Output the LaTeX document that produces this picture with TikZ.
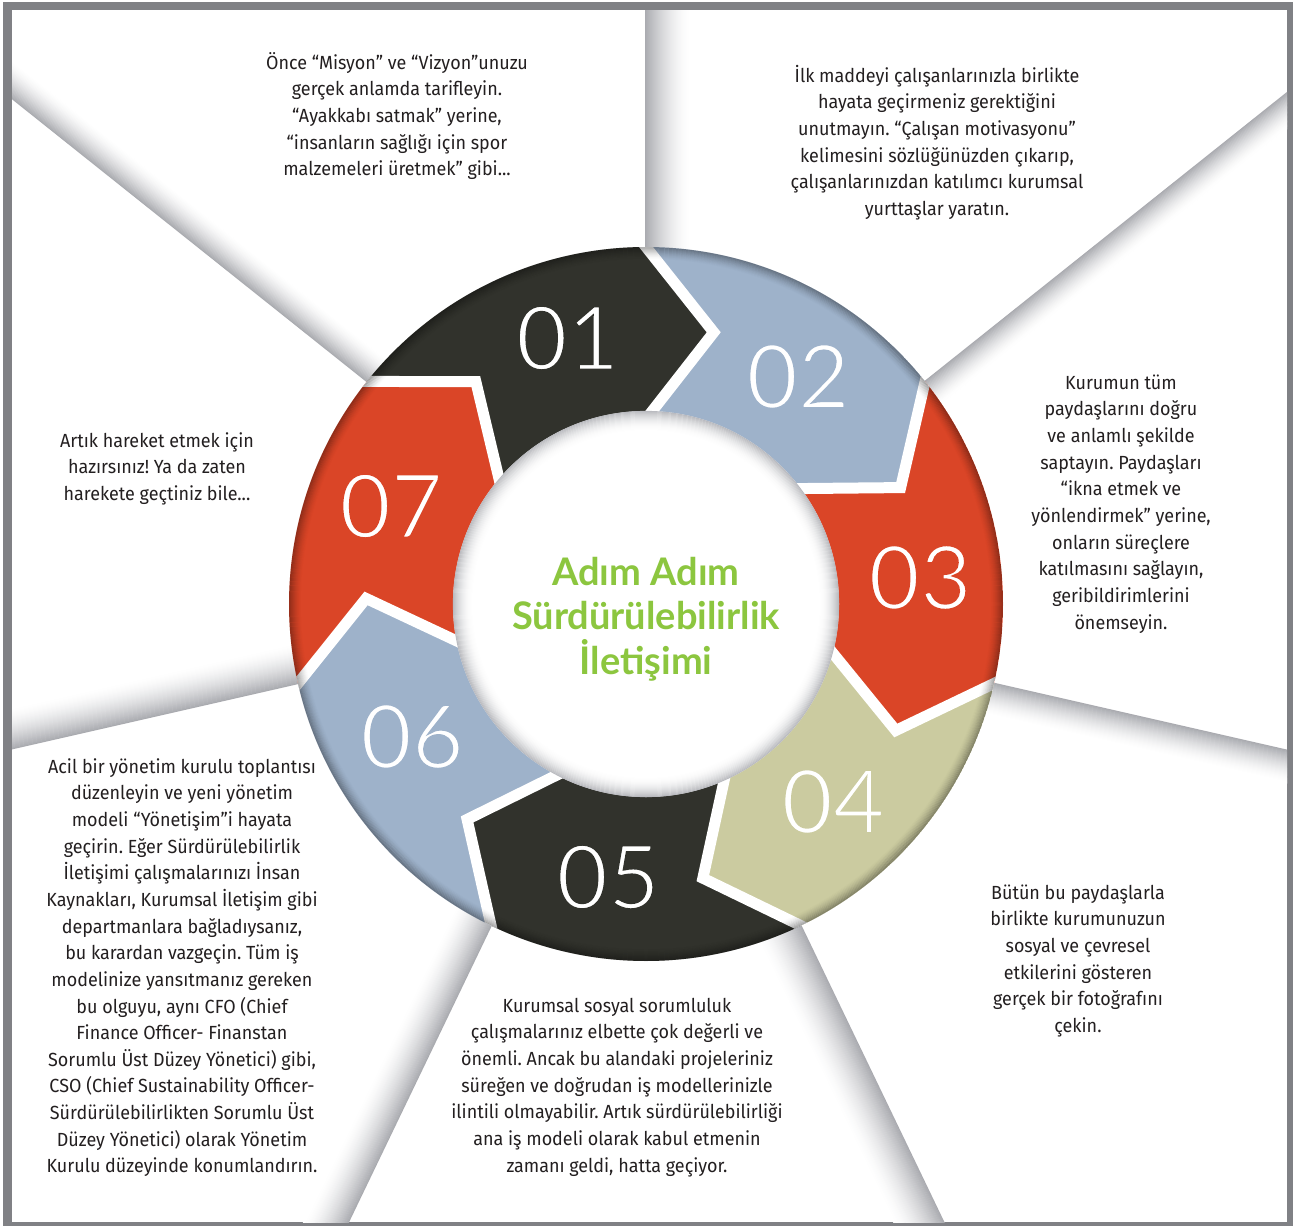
\documentclass[tikz,border=0pt]{standalone}
\usepackage{fontspec}
\setmainfont{Fira Sans}[FakeStretch=0.945]
\newfontfamily\numfont{Lato}
\newfontfamily\titlefont{Lato}
\usetikzlibrary{calc}
\definecolor{segdark}{HTML}{31322C}
\definecolor{segblue}{HTML}{9EB2CA}
\definecolor{segred}{HTML}{DA4527}
\definecolor{segkhaki}{HTML}{CBCBA0}
\definecolor{titlegreen}{HTML}{8CC63F}
\definecolor{framegray}{HTML}{808185}
\definecolor{txt}{HTML}{231F20}
\definecolor{shd}{RGB}{118,120,128}
% white digits whose outline is overstroked in the segment colour (thinner look)
\newcommand\thinnum[2]{\special{pdf:literal direct 2 Tr 2.6 w #1 RG}#2\special{pdf:literal direct 0 Tr}}
\tikzset{
  bodytext/.style={anchor=north, align=center, inner sep=0pt, text=txt, font=\frenchspacing\fontsize{19}{26.65}\selectfont},
  numlabel/.style={text=white, inner sep=0pt, font=\numfont\fontsize{89}{89}\selectfont},
  titletext/.style={anchor=north, align=center, inner sep=0pt, text=titlegreen, font=\titlefont\bfseries\fontsize{38}{44.5}\selectfont},
}
\begin{document}
\begin{tikzpicture}[x=1pt,y=-1pt]
\useasboundingbox (0,0) rectangle (1293,1226);
\fill[white] (0,0) rectangle (1293,1226);
\fill[framegray] (3,2) rectangle (1293,1226);
\fill[white] (12,10) rectangle (1287,1222);
\def\R{357}\def\r{185}\def\rt{280}\def\ri{193}
% paper shadows along the rays
\begin{scope}
  \clip (12,10) rectangle (1287,1222);
  \begin{scope}[shift={(646,604)}, y=1pt]
    \foreach \a/\w in {90/45, 38.5714/28, -12.8571/32, -64.2857/45, -115.7143/40, -167.1429/40, 141.4286/30}{
      \begin{scope}[rotate=\a]
        \foreach \d in {0,1,...,\w}{
          \pgfmathsetmacro\v{62*(1-\d/\w)^1.6}
          \draw[shd!\v!white, line width=1.4pt] (330,{-\d}) -- (2000,{-\d});
        }
      \end{scope}
    }
  \end{scope}
\end{scope}
% ring
\begin{scope}[shift={(646,604)}, y=1pt]
  \foreach \i/\col in {0/segdark,1/segblue,2/segred,3/segkhaki,4/segdark,5/segblue,6/segred}{
    \pgfmathsetmacro\A{141.4286-51.4286*\i}
    \pgfmathsetmacro\B{\A-51.4286}
    \pgfmathsetmacro\At{\A-14}
    \pgfmathsetmacro\Bt{\B-14}
    \fill[\col] (\A:\R) arc[start angle=\A, end angle=\B, radius=\R] -- (\Bt:\rt) -- (\B:\r)
      arc[start angle=\B, end angle=\A, radius=\r] -- (\At:\rt) -- cycle;
  }
  \begin{scope}
    \clip (0,0) circle[radius=\R];
    \foreach \i in {0,...,6}{
      \pgfmathsetmacro\A{141.4286-51.4286*\i}
      \pgfmathsetmacro\At{\A-14}
      \draw[white, line width=11pt, line join=miter, miter limit=10]
        ($(\A:\R)!-0.2!(\At:\rt)$) -- (\At:\rt) -- ($(\A:\r)!-0.3!(\At:\rt)$);
    }
    \foreach \k in {0,...,12}{
      \pgfmathsetmacro\op{0.28*(1-\k/12)^1.5}
      \draw[black, draw opacity=\op, line width=1.2pt] (0,0) circle[radius={\R-\k-0.4}];
    }
  \end{scope}
  \fill[white] (0,0) circle[radius=\ri];
  \foreach \k in {0,...,20}{
    \pgfmathsetmacro\v{50*(1-\k/20)^2}
    \draw[shd!\v!white, line width=1.2pt] (0,0) circle[radius={\ri-\k-0.5}];
  }
\end{scope}
% title
\node[titletext] (title) at (646,554) {\strut Adım Adım\\Sürdürülebilirlik\\İletişimi};
% texts
\node[bodytext] (t1) at (397,50.3) {\strut Önce “Misyon” ve “Vizyon”unuzu\\gerçek anlamda tarifleyin.\\“Ayakkabı satmak” yerine,\\“insanların sağlığı için spor\\malzemeleri üretmek” gibi...};
\node[bodytext] (t2) at (937,63.3) {\strut İlk maddeyi çalışanlarınızla birlikte\\hayata geçirmeniz gerektiğini\\unutmayın. “Çalışan motivasyonu”\\kelimesini sözlüğünüzden çıkarıp,\\çalışanlarınızdan katılımcı kurumsal\\yurttaşlar yaratın.};
\node[bodytext] (t3) at (1121,370.3) {\strut Kurumun tüm\\paydaşlarını doğru\\ve anlamlı şekilde\\saptayın. Paydaşları\\“ikna etmek ve\\yönlendirmek” yerine,\\onların süreçlere\\katılmasını sağlayın,\\geribildirimlerini\\önemseyin.};
\node[bodytext] (t4) at (1078,880.3) {\strut Bütün bu paydaşlarla\\birlikte kurumunuzun\\sosyal ve çevresel\\etkilerini gösteren\\gerçek bir fotoğrafını\\çekin.};
\node[bodytext] (t5) at (617,993.3) {\strut Kurumsal sosyal sorumluluk\\çalışmalarınız elbette çok değerli ve\\önemli. Ancak bu alandaki projeleriniz\\süreğen ve doğrudan iş modellerinizle\\ilintili olmayabilir. Artık sürdürülebilirliği\\ana iş modeli olarak kabul etmenin\\zamanı geldi, hatta geçiyor.};
\node[bodytext] (t6) at (182,754.3) {\strut Acil bir yönetim kurulu toplantısı\\düzenleyin ve yeni yönetim\\modeli “Yönetişim”i hayata\\geçirin. Eğer Sürdürülebilirlik\\İletişimi çalışmalarınızı İnsan\\Kaynakları, Kurumsal İletişim gibi\\departmanlara bağladıysanız,\\bu karardan vazgeçin. Tüm iş\\modelinize yansıtmanız gereken\\bu olguyu, aynı CFO (Chief\\Finance Officer- Finanstan\\Sorumlu Üst Düzey Yönetici) gibi,\\CSO (Chief Sustainability Officer-\\Sürdürülebilirlikten Sorumlu Üst\\Düzey Yönetici) olarak Yönetim\\Kurulu düzeyinde konumlandırın.};
\node[bodytext] (t7) at (157,428.3) {\strut Artık hareket etmek için\\hazırsınız! Ya da zaten\\harekete geçtiniz bile...};
% numbers
\node[numlabel] (n01) at (567.5,338) {\thinnum{0.192 0.196 0.173}{01}};
\node[numlabel] (n02) at (798,376.5) {\thinnum{0.620 0.698 0.792}{02}};
\node[numlabel] (n03) at (920,577.5) {\thinnum{0.855 0.271 0.153}{03}};
\node[numlabel] (n04) at (833,801.5) {\thinnum{0.796 0.796 0.627}{04}};
\node[numlabel] (n05) at (608,877) {\thinnum{0.192 0.196 0.173}{05}};
\node[numlabel] (n06) at (412,736.5) {\thinnum{0.620 0.698 0.792}{06}};
\node[numlabel] (n07) at (391,506) {\thinnum{0.855 0.271 0.153}{07}};
\end{tikzpicture}
\end{document}
